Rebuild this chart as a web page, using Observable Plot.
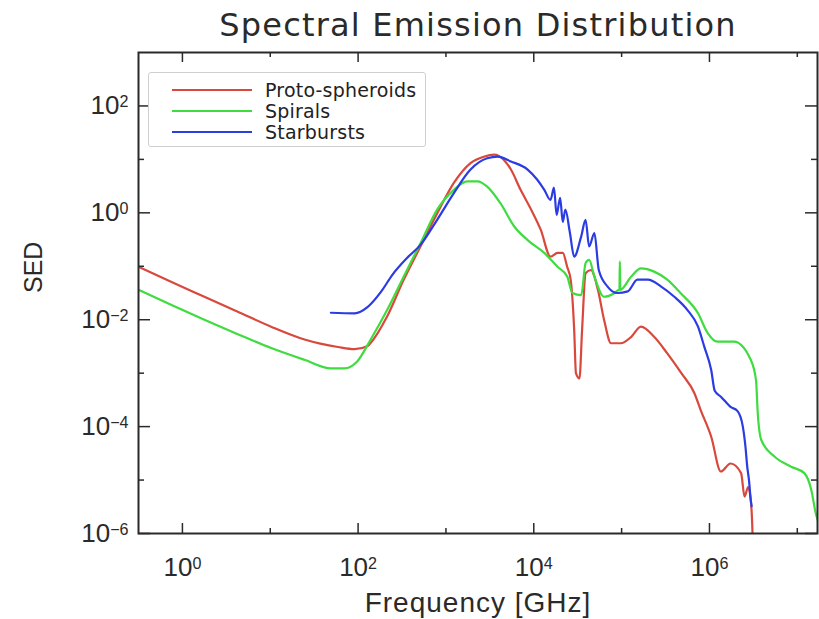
<!DOCTYPE html>
<html><head><meta charset="utf-8">
<script src="https://cdn.jsdelivr.net/npm/d3@7"></script>
<script src="https://cdn.jsdelivr.net/npm/@observablehq/plot@0.6"></script>
<style>
body{margin:0;background:#fff;}
#wrap{position:relative;width:819px;height:619px;overflow:hidden;}
#legend{position:absolute;left:148px;top:72px;width:278px;height:75px;border:1px solid #cfcfcf;border-radius:3px;background:#fff;box-sizing:border-box;font-family:"DejaVu Sans",sans-serif;color:#222;}
.row{position:absolute;left:0;height:20px;}
.sw{position:absolute;left:23px;width:80px;height:0;border-top:2px solid;top:9px;}
.lab{position:absolute;left:116px;top:0;line-height:20px;font-size:19px;letter-spacing:0.2px;white-space:nowrap;}
</style></head>
<body><div id="wrap"><div id="chart"></div><div id="legend"></div></div>
<script>
// series
const seriesNames = ["Proto-spheroids", "Spirals", "Starbursts"];
const seriesColors = ["#d9483c", "#3fdc3f", "#2a3ce2"];

// log10(frequency [GHz]) and log10(SED)
const protoLogFreq = [-0.50,-0.13,0.25,0.63,1.01,1.39,1.77,1.96,2.11,2.14,2.33,2.52,2.71,2.90,3.09,3.28,3.43,3.55,3.66,3.74,3.85,3.97,4.08,4.19,4.27,4.33,4.38,4.42,4.46,4.48,4.52,4.55,4.59,4.65,4.73,4.80,4.88,4.99,5.11,5.22,5.37,5.52,5.68,5.83,5.90,6.02,6.13,6.24,6.36,6.40,6.44,6.47,6.49,6.50];
const protoLogSED  = [-1.01,-1.29,-1.57,-1.85,-2.13,-2.37,-2.51,-2.55,-2.49,-2.44,-1.94,-1.25,-0.63,-0.01,0.56,0.93,1.05,1.09,0.99,0.81,0.43,0.06,-0.32,-0.82,-0.75,-0.75,-1.01,-1.25,-2.19,-3.00,-3.10,-2.19,-1.13,-1.07,-1.44,-2.00,-2.44,-2.44,-2.32,-2.13,-2.32,-2.63,-3.00,-3.38,-3.69,-4.19,-4.84,-4.69,-4.87,-5.31,-5.13,-5.37,-6.0,-7.0];

const spiralLogFreq = [-0.50,-0.13,0.25,0.63,1.01,1.39,1.69,1.84,1.99,2.14,2.33,2.52,2.71,2.90,3.09,3.24,3.36,3.47,3.62,3.78,3.93,4.12,4.27,4.38,4.44,4.54,4.59,4.63,4.69,4.80,4.92,4.97,4.975,4.98,4.985,5.11,5.22,5.37,5.52,5.67,5.87,5.98,6.09,6.28,6.47,6.53,6.55,6.59,6.74,6.93,7.08,7.16,7.21,7.26];
const spiralLogSED  = [-1.44,-1.72,-2.00,-2.27,-2.53,-2.75,-2.91,-2.91,-2.78,-2.38,-1.82,-1.19,-0.57,0.06,0.43,0.59,0.59,0.49,0.18,-0.26,-0.51,-0.75,-1.01,-1.19,-1.50,-1.54,-0.94,-0.88,-1.19,-1.57,-1.50,-1.44,-1.44,-0.91,-1.44,-1.19,-1.04,-1.10,-1.25,-1.50,-1.88,-2.25,-2.41,-2.41,-2.75,-3.13,-3.75,-4.25,-4.56,-4.75,-4.87,-5.19,-5.62,-5.87];

const starburstLogFreq = [1.69,1.96,2.11,2.26,2.39,2.56,2.71,2.90,3.09,3.28,3.47,3.59,3.74,3.93,4.04,4.12,4.19,4.23,4.26,4.30,4.33,4.36,4.41,4.46,4.54,4.59,4.63,4.69,4.74,4.84,4.95,5.07,5.18,5.30,5.45,5.60,5.75,5.87,5.94,6.02,6.06,6.13,6.24,6.32,6.38,6.41,6.43,6.45,6.47,6.48];
const starburstLogSED  = [-1.87,-1.88,-1.76,-1.48,-1.16,-0.84,-0.60,-0.13,0.37,0.81,1.02,1.05,0.96,0.81,0.62,0.43,0.24,0.47,-0.04,0.28,-0.17,0.06,-0.36,-0.82,-0.44,-0.13,-0.63,-0.38,-1.07,-1.38,-1.50,-1.47,-1.25,-1.25,-1.38,-1.57,-1.82,-2.13,-2.50,-2.94,-3.33,-3.44,-3.63,-3.71,-4.00,-4.38,-4.75,-5.00,-5.37,-5.49];

// axis ticks (log10 exponents)
const xMajorExp = [0, 2, 4, 6];
const xMinorExp = [1, 3, 5, 7];
const yMajorExp = [-6, -4, -2, 0, 2];
const yMinorExp = [-5, -3, -1, 1];

const titleText = "Spectral Emission Distribution";
const xLabel = "Frequency [GHz]";
const yLabel = "SED";

const toRows = (lf, ls, name) => lf.map((f, i) => ({freq: 10 ** f, sed: 10 ** ls[i], series: name}));
const allSeries = [
  toRows(protoLogFreq, protoLogSED, seriesNames[0]),
  toRows(spiralLogFreq, spiralLogSED, seriesNames[1]),
  toRows(starburstLogFreq, starburstLogSED, seriesNames[2])
];
const pw = v => 10 ** v;
const sup = n => String(n).replace("-", "\u2212");
const fmt = v => "10|" + sup(Math.round(Math.log10(v)));

const W = 819, H = 619, mL = 138, mR = 2, mT = 52, mB = 86;
const fh = H - mT - mB, fw = W - mL - mR;
const ink = "#2a2a2a";

const chart = Plot.plot({
  width: W, height: H,
  marginLeft: mL, marginRight: mR, marginTop: mT, marginBottom: mB,
  style: {fontFamily: "'Liberation Sans', Arial, sans-serif", fontSize: "26px", color: ink, background: "#fff"},
  x: {type: "log", domain: [10 ** -0.5, 10 ** 7.23], label: null},
  y: {type: "log", domain: [1e-6, 1e3], label: null},
  marks: [
    ...allSeries.map((rows, i) => Plot.line(rows, {x: "freq", y: "sed", stroke: seriesColors[i], strokeWidth: 2.2, curve: "monotone-x", clip: true})),
    Plot.frame({stroke: ink, strokeWidth: 2}),
    Plot.tickX(xMajorExp.map(pw), {x: d => d, insetTop: fh - 10, stroke: ink, strokeWidth: 1.5}),
    Plot.tickX(xMajorExp.map(pw), {x: d => d, insetBottom: fh - 10, stroke: ink, strokeWidth: 1.5}),
    Plot.tickX(xMinorExp.map(pw), {x: d => d, insetTop: fh - 5, stroke: ink, strokeWidth: 1.5}),
    Plot.tickX(xMinorExp.map(pw), {x: d => d, insetBottom: fh - 5, stroke: ink, strokeWidth: 1.5}),
    Plot.tickY(yMajorExp.map(pw), {y: d => d, insetRight: fw - 12, stroke: ink, strokeWidth: 1.5}),
    Plot.tickY(yMajorExp.map(pw), {y: d => d, insetLeft: fw - 12, stroke: ink, strokeWidth: 1.5}),
    Plot.tickY(yMinorExp.map(pw), {y: d => d, insetRight: fw - 6, stroke: ink, strokeWidth: 1.5}),
    Plot.tickY(yMinorExp.map(pw), {y: d => d, insetLeft: fw - 6, stroke: ink, strokeWidth: 1.5}),
    Plot.axisX(xMajorExp.map(pw), {tickSize: 0, tickPadding: 24, tickFormat: fmt, fontSize: 26, label: null}),
    Plot.axisY(yMajorExp.map(pw), {tickSize: 0, tickPadding: 10, tickFormat: fmt, fontSize: 26, label: null}),
    Plot.text([titleText], {text: d => d, frameAnchor: "top", dy: -27, lineAnchor: "middle", fontSize: 32, fontFamily: "'DejaVu Sans', sans-serif", fill: ink, style: "letter-spacing:1.2px"}),
    Plot.text([xLabel], {text: d => d, frameAnchor: "bottom", dy: 70, lineAnchor: "middle", fontSize: 28, fill: ink}),
    Plot.text([yLabel], {text: d => d, frameAnchor: "left", dx: -105, rotate: -90, lineAnchor: "middle", fontSize: 25, fill: ink})
  ]
});
document.getElementById("chart").appendChild(chart);

// letter spacing for the title and x label
d3.select(chart).selectAll("text").filter(function () { return this.textContent === titleText; }).style("letter-spacing", "1.2px");
d3.select(chart).selectAll("text").filter(function () { return this.textContent === xLabel; }).style("letter-spacing", "1px");

// render "10|n" tick labels as 10 with a superscript exponent
d3.select(chart).selectAll('[aria-label="x-axis tick label"] text, [aria-label="y-axis tick label"] text').each(function () {
  const t = d3.select(this);
  const s = t.text();
  if (!s.includes("|")) return;
  const [base, exp] = s.split("|");
  t.text("");
  t.append("tspan").text(base);
  t.append("tspan").attr("dy", "-0.45em").attr("font-size", "0.62em").text(exp);
});

// legend
const leg = document.getElementById("legend");
seriesNames.forEach((name, i) => {
  const row = document.createElement("div");
  row.className = "row";
  row.style.top = (7 + i * 21) + "px";
  row.style.width = "100%";
  const sw = document.createElement("div");
  sw.className = "sw";
  sw.style.borderTopColor = seriesColors[i];
  const lab = document.createElement("div");
  lab.className = "lab";
  lab.textContent = name;
  row.appendChild(sw);
  row.appendChild(lab);
  leg.appendChild(row);
});
</script>
</body></html>
